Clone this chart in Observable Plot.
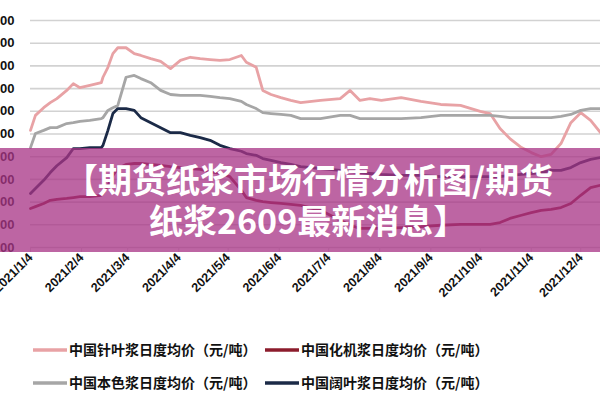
<!DOCTYPE html>
<html><head><meta charset="utf-8">
<script src="https://cdn.jsdelivr.net/npm/d3@7"></script>
<script src="https://cdn.jsdelivr.net/npm/@observablehq/plot@0.6"></script>
<style>
body{margin:0;background:#fff;}
#wrap{position:relative;width:600px;height:400px;overflow:hidden;background:#fff;}
#chart{position:absolute;left:-15px;top:0;}
#banner{position:absolute;left:0;top:148px;width:600px;height:104px;background:rgba(168,52,134,0.76);}
#over{position:absolute;left:0;top:0;}
</style></head>
<body>
<div id="wrap">
  <div id="chart"></div>
  <div id="banner"></div>
  <svg id="over" width="600" height="400"></svg>
</div>
<script>
const dates = ["2021-01-04","2021-01-07","2021-01-12","2021-01-16","2021-01-20","2021-01-26","2021-01-30","2021-02-03","2021-02-09","2021-02-16",
"2021-02-17","2021-02-20","2021-02-23","2021-02-26","2021-03-03","2021-03-08","2021-03-12","2021-03-18","2021-03-24","2021-03-30",
"2021-04-05","2021-04-11","2021-04-17","2021-04-23","2021-04-29","2021-05-05","2021-05-12","2021-05-15","2021-05-21","2021-05-25",
"2021-05-30","2021-06-05","2021-06-11","2021-06-17","2021-06-29","2021-07-11","2021-07-17","2021-07-23","2021-07-29","2021-08-05",
"2021-08-17","2021-08-29","2021-09-10","2021-09-22","2021-10-04","2021-10-10","2021-10-16","2021-10-22","2021-10-29","2021-11-04",
"2021-11-10","2021-11-16","2021-11-22","2021-11-28","2021-12-04","2021-12-10","2021-12-16"];

const softwood = [5580,5910,6080,6190,6280,6460,6610,6520,6570,6630,6750,6970,7270,7400,7400,7270,7230,7160,7100,6940,
7120,7190,7160,7140,7120,7140,7230,7080,6970,6460,6370,6300,6240,6190,6240,6280,6460,6240,6280,6240,
6300,6220,6150,6130,6000,5950,5620,5400,5200,5090,5000,5050,5290,5750,5970,5800,5530];

const chemiMech = [3860,3900,3970,4040,4060,4080,4100,4120,4120,4150,4190,4370,4590,4740,4830,4850,4850,4830,4810,4780,
4760,4740,4720,4670,4630,4560,4260,4100,4040,4010,3990,3970,3950,3930,3820,3600,3490,3420,3420,3420,
3440,3460,3490,3510,3510,3510,3550,3640,3710,3770,3820,3840,3880,3970,4150,4320,4370];

const unbleached = [5200,5510,5580,5640,5640,5730,5750,5780,5800,5840,5860,6020,6080,6130,6750,6790,6720,6630,6460,6370,
6350,6350,6350,6330,6300,6280,6220,6150,6060,5970,5950,5930,5910,5840,5840,5910,5910,5840,5840,5840,
5840,5860,5910,5910,5910,5910,5890,5860,5860,5860,5860,5860,5890,5930,6020,6060,6060];

const hardwood = [4190,4300,4480,4650,4800,4980,5180,5180,5200,5200,5250,5580,5950,6060,6060,6020,5860,5750,5640,5530,
5530,5470,5420,5360,5250,5180,5120,5070,5030,4960,4920,4870,4830,4780,4740,4700,4670,4650,4630,4610,
4590,4590,4560,4560,4560,4560,4560,4590,4610,4630,4650,4700,4700,4760,4870,4940,4980];

const seriesNames = ["中国针叶浆日度均价（元/吨）","中国化机浆日度均价（元/吨）","中国本色浆日度均价（元/吨）","中国阔叶浆日度均价（元/吨）"];
const seriesColors = ["#e8a2a5","#8c1c2c","#a6a6a6","#1b2a47"];
const yTicks = [3000,3500,4000,4500,5000,5500,6000,6500,7000,7500,8000];
const xTickDates = ["2021-01-04","2021-02-04","2021-03-04","2021-04-04","2021-05-04","2021-06-04","2021-07-04","2021-08-04","2021-09-04","2021-10-04","2021-11-04","2021-12-04"];
const titleLines = ["【期货纸浆市场行情分析图/期货","纸浆2609最新消息】"];

const parse = d3.utcParse("%Y-%m-%d");
const seriesValues = [softwood, chemiMech, unbleached, hardwood];
const rows = [];
seriesValues.forEach((vals, i) => {
  vals.forEach((v, j) => rows.push({date: parse(dates[j]), value: v, series: seriesNames[i]}));
});
const fmt = d => `${d.getUTCFullYear()}/${d.getUTCMonth()+1}/${d.getUTCDate()}`;

const chart = Plot.plot({
  width: 615, height: 302,
  marginLeft: 45, marginRight: 0, marginTop: 20, marginBottom: 55,
  style: {fontFamily: "Liberation Sans, Arial, sans-serif", fontSize: "12px", fontWeight: "bold", color: "#111", background: "transparent"},
  x: {type: "utc", domain: [parse("2021-01-04"), parse("2021-12-16")]},
  y: {domain: [3000, 8000]},
  color: {domain: seriesNames, range: seriesColors},
  marks: [
    Plot.gridY(yTicks, {stroke: "#d2d2d2", strokeOpacity: 1, strokeWidth: 1.6}),
    Plot.axisY(yTicks, {tickSize: 0, tickPadding: 16, label: null, fontSize: 13}),
    Plot.axisX(xTickDates.map(parse), {tickRotate: -45, tickFormat: fmt, tickSize: 5, stroke: "#d8d8d8", tickPadding: 3, label: null, fontSize: 12.5}),
    Plot.lineY(rows, {x: "date", y: "value", z: "series", stroke: "series", strokeWidth: 2.8})
  ]
});
document.getElementById("chart").appendChild(chart);

// overlay: banner title and legend
const svg = d3.select("#over");
const tfont = "'Noto Sans CJK SC', sans-serif";
svg.append("text").attr("x", 64).attr("y", 193).attr("fill", "#fff")
  .attr("font-family", tfont).attr("font-size", 34).attr("font-weight", 700).text(titleLines[0]);
svg.append("text").attr("x", 149).attr("y", 234).attr("fill", "#fff")
  .attr("font-family", tfont).attr("font-size", 34).attr("font-weight", 700).text(titleLines[1]);

const legPos = [[33, 350], [265, 350], [33, 383], [265, 383]];
seriesNames.forEach((name, i) => {
  const [x, y] = legPos[i];
  svg.append("line").attr("x1", x).attr("x2", x + 34).attr("y1", y).attr("y2", y)
    .attr("stroke", seriesColors[i]).attr("stroke-width", 3.5);
  svg.append("text").attr("x", x + 36).attr("y", y + 5).attr("fill", "#111")
    .attr("font-family", tfont).attr("font-size", 14).attr("font-weight", 700).text(name);
});
</script>
</body></html>
